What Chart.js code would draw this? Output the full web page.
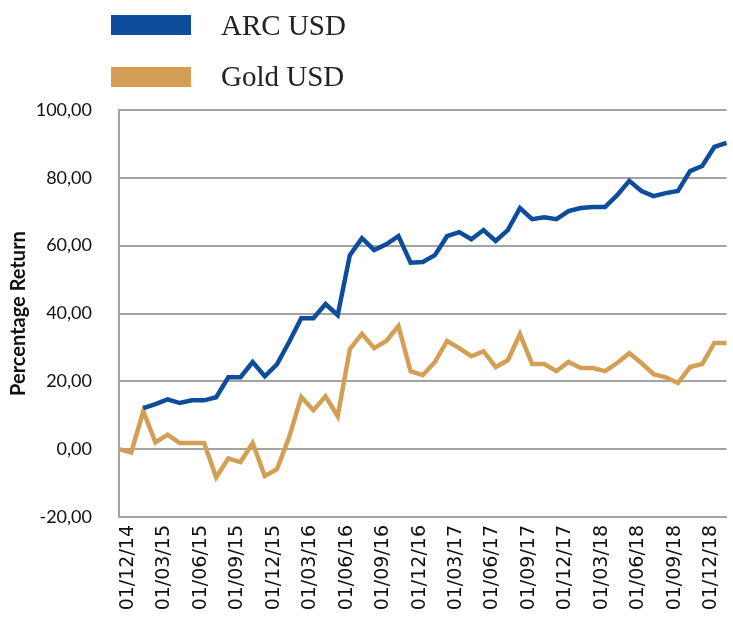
<!DOCTYPE html>
<html>
<head>
<meta charset="utf-8">
<script src="https://cdn.jsdelivr.net/npm/chart.js@4"></script>
<style>
  html, body { margin: 0; padding: 0; background: #fff; }
  #wrap { position: relative; width: 733px; height: 617px; overflow: hidden; }
  #chart { position: absolute; left: 0; top: 0; }
  .key { position: absolute; left: 111px; width: 80px; height: 20px; }
  .keyText { position: absolute; left: 221px; font-family: "Liberation Serif", serif; font-size: 29px; color: #222; line-height: 1; }
</style>
</head>
<body>
<div id="wrap">
  <canvas id="chart" width="733" height="617"></canvas>
  <div id="legend"></div>
</div>
<script>
// ข้อมูลรายเดือน ธ.ค. 2014 - ก.พ. 2019
const dates = [
    '01/12/14', '01/01/15', '01/02/15', '01/03/15', '01/04/15', '01/05/15', '01/06/15',
    '01/07/15', '01/08/15', '01/09/15', '01/10/15', '01/11/15', '01/12/15',
    '01/01/16', '01/02/16', '01/03/16', '01/04/16', '01/05/16', '01/06/16',
    '01/07/16', '01/08/16', '01/09/16', '01/10/16', '01/11/16', '01/12/16',
    '01/01/17', '01/02/17', '01/03/17', '01/04/17', '01/05/17', '01/06/17',
    '01/07/17', '01/08/17', '01/09/17', '01/10/17', '01/11/17', '01/12/17',
    '01/01/18', '01/02/18', '01/03/18', '01/04/18', '01/05/18', '01/06/18',
    '01/07/18', '01/08/18', '01/09/18', '01/10/18', '01/11/18', '01/12/18',
    '01/01/19', '01/02/19'
];

const arcUsd = [
    null, null, 12.1, 13.3, 14.7, 13.6, 14.4, 14.4, 15.3, 21.2, 21.2, 25.7, 21.5,
    25.0, 31.6, 38.6, 38.6, 42.8, 39.5, 57.2, 62.2, 58.7, 60.4, 62.8, 55.0,
    55.2, 57.2, 62.8, 64.0, 61.9, 64.6, 61.4, 64.6, 71.1, 67.8, 68.4, 67.8,
    70.2, 71.1, 71.4, 71.4, 74.9, 79.1, 76.1, 74.6, 75.5, 76.1, 82.0, 83.5,
    89.1, 90.3
];

const goldUsd = [
    0.0, -1.0, 11.2, 2.0, 4.3, 1.8, 1.8, 1.8, -8.3, -2.7, -3.8, 1.8, -7.9,
    -5.9, 3.5, 15.4, 11.5, 15.6, 9.7, 29.5, 34.0, 29.8, 31.9, 36.3, 23.0,
    21.8, 25.7, 31.9, 29.8, 27.4, 28.9, 24.2, 26.2, 33.9, 25.1, 25.1, 23.0,
    25.7, 23.9, 23.9, 23.0, 25.4, 28.3, 25.4, 22.1, 21.2, 19.5, 24.2, 25.1,
    31.3, 31.3
];

const yMin = -20;
const yMax = 100;
const yStep = 20;

const seriesNames = ['ARC USD', 'Gold USD'];
const seriesColors = ['#0d4d9b', '#d49f55'];

const gridGrey = '#a3a3a3';

// legend แบบ html
const legend = document.getElementById('legend');
seriesNames.forEach(function (name, i) {
    const box = document.createElement('div');
    box.className = 'key';
    box.style.top = (15 + i * 52) + 'px';
    box.style.background = seriesColors[i];
    legend.appendChild(box);
    const txt = document.createElement('div');
    txt.className = 'keyText';
    txt.style.top = (11 + i * 51) + 'px';
    txt.textContent = name;
    legend.appendChild(txt);
});

const ctx = document.getElementById('chart').getContext('2d');
new Chart(ctx, {
    type: 'line',
    data: {
        labels: dates,
        datasets: [{
            label: seriesNames[0],
            data: arcUsd,
            borderColor: seriesColors[0],
            borderWidth: 4.5,
            pointRadius: 0,
            tension: 0
        }, {
            label: seriesNames[1],
            data: goldUsd,
            borderColor: seriesColors[1],
            borderWidth: 4.5,
            pointRadius: 0,
            tension: 0
        }]
    },
    options: {
        responsive: false,
        animation: false,
        layout: { padding: { top: 110, left: 0, right: 0, bottom: 0 } },
        plugins: {
            legend: { display: false },
            tooltip: { enabled: false }
        },
        scales: {
            x: {
                offset: false,
                grid: { display: false, drawTicks: false },
                border: { display: true, color: gridGrey, width: 2 },
                ticks: {
                    autoSkip: false,
                    minRotation: 90,
                    maxRotation: 90,
                    padding: 8,
                    labelOffset: 9,
                    color: '#111',
                    font: { family: 'DejaVu Sans', size: 19 },
                    callback: function (value, index) {
                        return index % 3 === 0 ? dates[index] : null;
                    }
                },
                afterFit: function (scale) { scale.height = 100; }
            },
            y: {
                min: yMin,
                max: yMax,
                grid: { color: gridGrey, lineWidth: 2, drawTicks: false },
                border: { display: true, color: gridGrey, width: 2 },
                ticks: {
                    stepSize: yStep,
                    padding: 27,
                    color: '#111',
                    font: { family: 'Lato', size: 18 },
                    callback: function (value) {
                        return value.toFixed(2).replace('.', ',');
                    }
                },
                title: {
                    display: true,
                    text: 'Percentage Return',
                    color: '#111',
                    padding: { top: 7, bottom: 0 },
                    font: { family: 'Lato', size: 20, weight: 'bold' }
                },
                afterFit: function (scale) { scale.width = 119; }
            }
        }
    }
});
</script>
</body>
</html>
